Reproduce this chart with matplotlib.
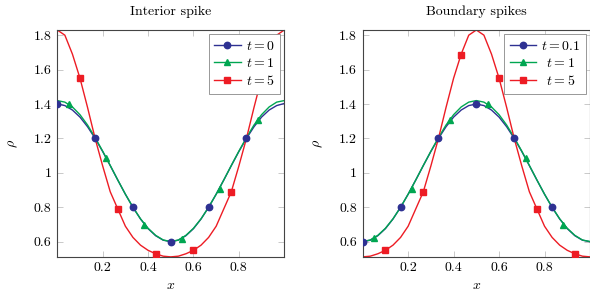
import numpy as np
import matplotlib
matplotlib.use('Agg')
import matplotlib.pyplot as plt
from matplotlib.ticker import FuncFormatter

# sample positions (step 1/30)
x_grid = np.arange(31) / 30

# Interior spike
int_t0 = [1.400, 1.391, 1.365, 1.324, 1.268, 1.200, 1.124, 1.042, 0.958, 0.876,
          0.800, 0.732, 0.676, 0.635, 0.609, 0.600, 0.609, 0.635, 0.676, 0.732,
          0.800, 0.876, 0.958, 1.042, 1.124, 1.200, 1.268, 1.324, 1.365, 1.391,
          1.403]
int_t1 = [1.420, 1.411, 1.383, 1.338, 1.278, 1.205, 1.126, 1.043, 0.958, 0.876,
          0.800, 0.733, 0.678, 0.637, 0.610, 0.601, 0.610, 0.637, 0.678, 0.733,
          0.800, 0.876, 0.958, 1.043, 1.126, 1.205, 1.278, 1.338, 1.383, 1.411,
          1.420]
int_t5 = [1.830, 1.800, 1.690, 1.550, 1.380, 1.200, 1.040, 0.890, 0.790, 0.690,
          0.625, 0.580, 0.550, 0.530, 0.516, 0.512, 0.516, 0.530, 0.550, 0.580,
          0.625, 0.690, 0.790, 0.890, 1.040, 1.200, 1.380, 1.550, 1.690, 1.800,
          1.830]

# Boundary spikes
bnd_t01 = [0.600, 0.609, 0.635, 0.676, 0.732, 0.800, 0.876, 0.958, 1.042, 1.124,
           1.200, 1.268, 1.324, 1.365, 1.391, 1.400, 1.391, 1.365, 1.324, 1.268,
           1.200, 1.124, 1.042, 0.958, 0.876, 0.800, 0.732, 0.676, 0.635, 0.609,
           0.600]
bnd_t1 = [0.601, 0.610, 0.637, 0.678, 0.733, 0.800, 0.876, 0.958, 1.043, 1.126,
          1.205, 1.278, 1.338, 1.383, 1.411, 1.420, 1.411, 1.383, 1.338, 1.278,
          1.205, 1.126, 1.043, 0.958, 0.876, 0.800, 0.733, 0.678, 0.637, 0.610,
          0.601]
bnd_t5 = [0.512, 0.516, 0.530, 0.550, 0.580, 0.625, 0.690, 0.790, 0.890, 1.040,
          1.200, 1.380, 1.550, 1.690, 1.800, 1.830, 1.800, 1.690, 1.550, 1.380,
          1.200, 1.040, 0.890, 0.790, 0.690, 0.625, 0.580, 0.550, 0.530, 0.516,
          0.512]

# marker positions
mk_x0 = [0.0, 1/6, 1/3, 0.5, 2/3, 5/6]
mk_x1 = [0.05, 0.2167, 0.3833, 0.55, 0.7167, 0.8833]
mk_x5 = [0.1, 0.2667, 0.4333, 0.6, 0.7667, 0.9333]

int_mk0 = [1.400, 1.200, 0.800, 0.600, 0.800, 1.200]
int_mk1 = [1.400, 1.085, 0.695, 0.618, 0.905, 1.305]
int_mk5 = [1.550, 0.790, 0.530, 0.550, 0.890, 1.685]

bnd_mk0 = [0.600, 0.800, 1.200, 1.400, 1.200, 0.800]
bnd_mk1 = [0.620, 0.905, 1.305, 1.400, 1.085, 0.695]
bnd_mk5 = [0.550, 0.890, 1.685, 1.550, 0.790, 0.530]

titles = ['Interior spike', 'Boundary spikes']
labels_int = [r'$t = 0$', r'$t = 1$', r'$t = 5$']
labels_bnd = [r'$t = 0.1$', r'$\hspace{0.45}t = 1$', r'$\hspace{0.45}t = 5$']

c_blue = '#2e3192'
c_green = '#00a651'
c_red = '#ed1c24'

plt.rcParams['font.family'] = 'serif'
plt.rcParams['font.serif'] = ['cmr10']
plt.rcParams['mathtext.fontset'] = 'cm'
plt.rcParams['axes.formatter.use_mathtext'] = True
plt.rcParams['font.size'] = 10

fig = plt.figure(figsize=(5.9, 2.93), dpi=100)
ax1 = fig.add_axes([0.0971, 0.1239, 0.3847, 0.7737])
ax2 = fig.add_axes([0.6147, 0.1239, 0.3853, 0.7737])

panels = [
    (ax1, [int_t0, int_t1, int_t5], [int_mk0, int_mk1, int_mk5], labels_int),
    (ax2, [bnd_t01, bnd_t1, bnd_t5], [bnd_mk0, bnd_mk1, bnd_mk5], labels_bnd),
]
styles = [(c_blue, 'o', 4.6, mk_x0), (c_green, '^', 4.6, mk_x1),
          (c_red, 's', 4.3, mk_x5)]

for (ax, curves, marks, labels), title in zip(panels, titles):
    for ys, my, lab, (c, m, ms, mx) in zip(curves, marks, labels, styles):
        ax.plot(x_grid, ys, '-', color=c, lw=1.0, zorder=2)
        ax.plot(mx, my, ls='none', marker=m, ms=ms, color=c, zorder=3)
        # legend proxy
        ax.plot([], [], '-', color=c, lw=1.0, marker=m, ms=ms, label=lab)
    ax.set_xlim(0, 1)
    ax.set_ylim(0.513, 1.83)
    ax.set_xticks([0.2, 0.4, 0.6, 0.8])
    ax.set_yticks([0.6, 0.8, 1.0, 1.2, 1.4, 1.6, 1.8])
    ax.yaxis.set_major_formatter(FuncFormatter(lambda v, p: '%g' % v))
    ax.xaxis.set_major_formatter(FuncFormatter(lambda v, p: '%g' % v))
    ax.tick_params(direction='in', length=4, width=0.6, color='#c0c0c0',
                   top=True, right=True, labelsize=10, pad=4)
    for sp in ax.spines.values():
        sp.set_color('#444444')
        sp.set_linewidth(0.8)
    ax.set_title(title, fontsize=10, pad=11)
    ax.set_xlabel(r'$x$', fontsize=10, labelpad=4)
    ax.set_ylabel(r'$\rho$', fontsize=10, labelpad=10)
    leg = ax.legend(loc='upper right', fancybox=False, framealpha=1,
                    edgecolor='#888888', handlelength=1.9, handletextpad=0.35,
                    labelspacing=0.3, borderaxespad=0.3, borderpad=0.4,
                    fontsize=10)
    leg.get_frame().set_linewidth(0.6)
    leg.set_zorder(5)

fig.savefig('out.png', dpi=100)
